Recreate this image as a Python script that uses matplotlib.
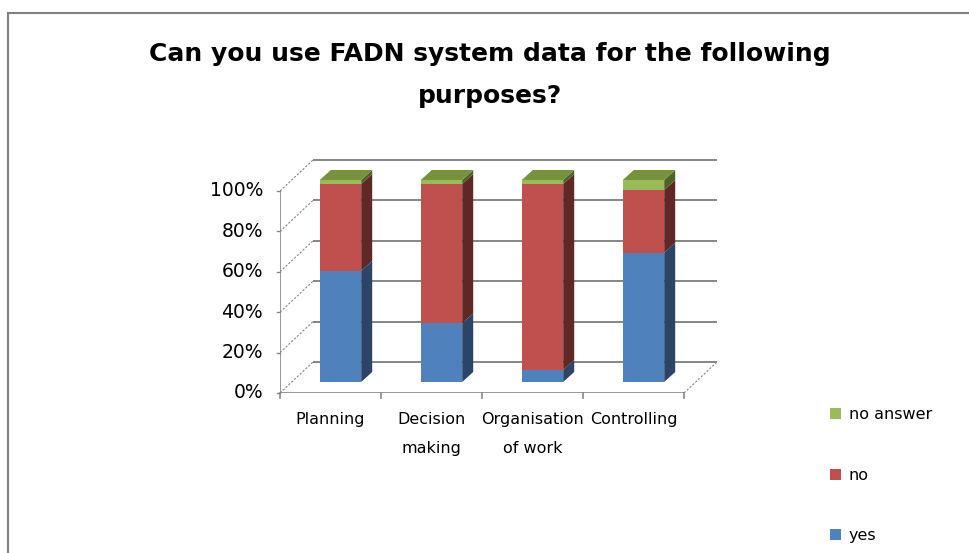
import matplotlib
matplotlib.use('Agg')
import matplotlib.pyplot as plt
from matplotlib.patches import Polygon, Patch
from matplotlib.lines import Line2D

# ---- data (percent) ----
categories = ['Planning', 'Decision\nmaking', 'Organisation\nof work', 'Controlling']
yes = [55, 29, 6, 64]
no = [43, 69, 92, 31]
no_answer = [2, 2, 2, 5]
yticks = [0, 20, 40, 60, 80, 100]
ytick_labels = ['0%', '20%', '40%', '60%', '80%', '100%']

series = [('yes', yes), ('no', no), ('no answer', no_answer)]
# front, side, top
colors = {'yes': ('#4F81BD', '#2B4467', '#3E6597'),
          'no': ('#C0504D', '#5F2725', '#953735'),
          'no answer': ('#9BBB59', '#4F6228', '#76923C')}
GRID = '#868686'

W, H = 970, 553
fig = plt.figure(figsize=(W / 100, H / 100), dpi=100)
fig.patch.set_facecolor('white')

# plot area laid out in pixels
px_x = 101.0   # px per category
px_y = 2.02    # px per percent
x0_px, y0_px = 280, 393
xmin, xmax = -0.5, 3.85
ymin, ymax = 0, 116
ax = fig.add_axes([x0_px / W, (H - y0_px) / H,
                   (xmax - xmin) * px_x / W, (ymax - ymin) * px_y / H])
ax.set_xlim(xmin, xmax)
ax.set_ylim(ymin, ymax)
ax.axis('off')

depth = (33 / px_x, 31 / px_y)     # full depth of the floor
bar_off = (10 / px_x, 11 / px_y)   # bars sit a bit back from the front edge
bar_d = (11 / px_x, 10 / px_y)     # depth of each column
width = 0.41
n = len(categories)
xr_end = n - 0.5

# back wall grid + left wall diagonals
for t, lab in zip(yticks, ytick_labels):
    ax.plot([xmin + depth[0], xr_end + depth[0]], [t + depth[1]] * 2,
            color=GRID, lw=1.4, zorder=1, solid_capstyle='butt')
    ax.plot([xmin, xmin + depth[0]], [t, t + depth[1]],
            color=GRID, lw=0.8, ls=(0, (2, 1.5)), zorder=1)
    ax.plot([xmin - 3 / px_x, xmin], [t, t], color=GRID, lw=1, zorder=1,
            clip_on=False)
    ax.text(xmin - 17 / px_x, t, lab, ha='right', va='center',
            fontsize=13.5, color='black')

# floor edges and axis lines
ax.plot([xmin, xmin], [0, 100], color=GRID, lw=1.2, zorder=1)
ax.plot([xmin, xr_end], [0, 0], color=GRID, lw=1.2, zorder=1)
ax.plot([xr_end, xr_end + depth[0]], [0, depth[1]],
        color=GRID, lw=0.8, ls=(0, (2, 1.5)), zorder=1)
for k in range(n + 1):
    ax.plot([k - 0.5, k - 0.5], [0, -5 / px_y], color=GRID, lw=1.2,
            clip_on=False)

# columns
for i in range(n):
    xc = i + bar_off[0]
    xl, xr = xc - width / 2, xc + width / 2
    bottom = bar_off[1]
    for j, (name, vals) in enumerate(series):
        v = vals[i]
        front, side, top = colors[name]
        ax.bar(xc, v, width, bottom=bottom, color=front, zorder=3 + j,
               linewidth=0)
        yb, yt = bottom, bottom + v
        ax.add_patch(Polygon([(xr, yb), (xr + bar_d[0], yb + bar_d[1]),
                              (xr + bar_d[0], yt + bar_d[1]), (xr, yt)],
                             closed=True, facecolor=side, edgecolor='none',
                             zorder=3 + j))
        if j == len(series) - 1:
            ax.add_patch(Polygon([(xl, yt), (xr, yt),
                                  (xr + bar_d[0], yt + bar_d[1]),
                                  (xl + bar_d[0], yt + bar_d[1])],
                                 closed=True, facecolor=top, edgecolor='none',
                                 zorder=3 + j))
        bottom = yt

# category labels
for i, lab in enumerate(categories):
    ax.text(i, -19 / px_y, lab, ha='center', va='top', fontsize=11.5,
            linespacing=2.2, clip_on=False)

# title
fig.text(0.505, 1 - 42 / H,
         'Can you use FADN system data for the following\npurposes?',
         ha='center', va='top', fontsize=18, fontweight='bold',
         linespacing=1.95)

# legend
handles = [Patch(facecolor=colors[name][0], label=name)
           for name, _ in reversed(series)]
fig.legend(handles=handles, loc='upper left',
           bbox_to_anchor=(824 / W, 1 - 401 / H), frameon=False,
           fontsize=11.5, handlelength=0.65, handleheight=0.65,
           handletextpad=0.5, labelspacing=2.85, borderaxespad=0)

# chart area border (only left and top edges are visible)
fig.add_artist(Line2D([8 / W, 8 / W], [0, 1 - 13 / H], color='#808080',
                      lw=1.5, transform=fig.transFigure))
fig.add_artist(Line2D([8 / W, 1], [1 - 13 / H, 1 - 13 / H], color='#808080',
                      lw=1.5, transform=fig.transFigure))

fig.savefig('out.png', dpi=100)
